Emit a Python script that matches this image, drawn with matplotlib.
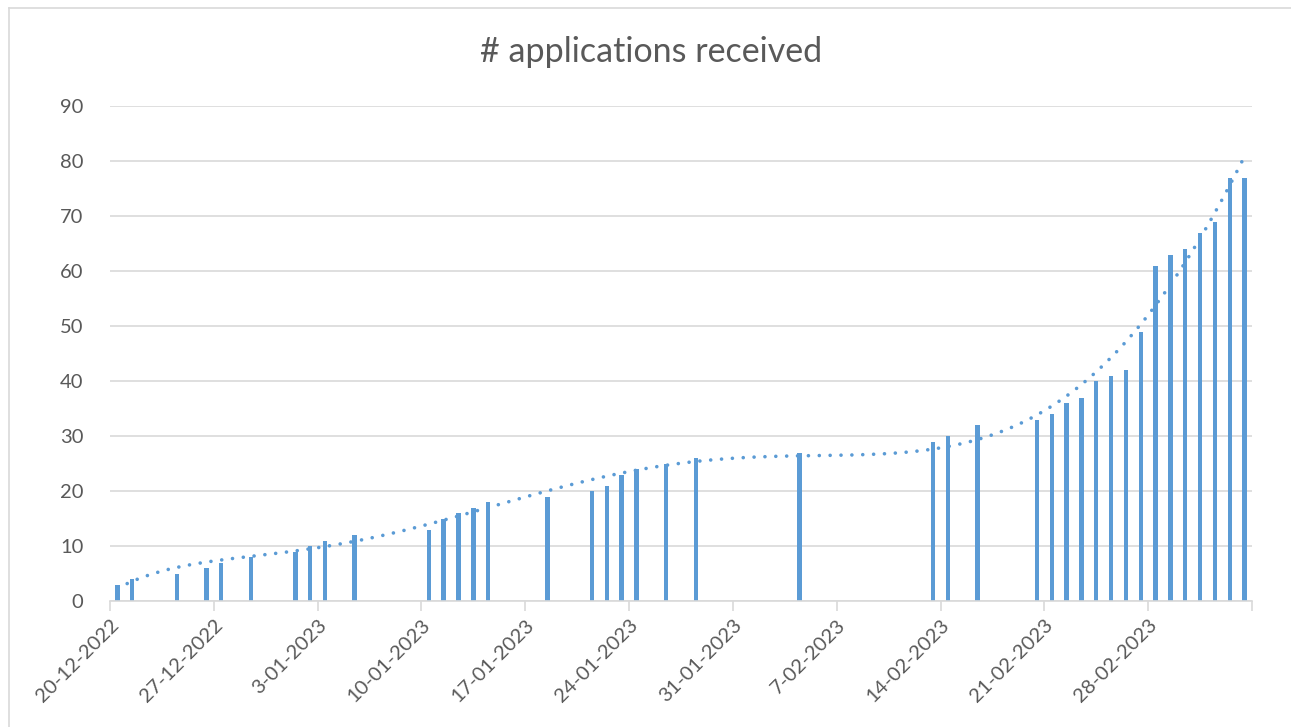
import datetime as dt

import numpy as np
import matplotlib.pyplot as plt
import matplotlib.dates as mdates
from matplotlib.lines import Line2D
from matplotlib.ticker import FuncFormatter

# dates with applications (day offset from 20-12-2022) and running total
START = dt.date(2022, 12, 20)
day_offsets = [0, 1, 4, 6, 7, 9, 12, 13, 14, 16,
               21, 22, 23, 24, 25, 29, 32, 33, 34, 35, 37, 39,
               46, 55, 56, 58,
               62, 63, 64, 65, 66, 67, 68, 69, 70, 71, 72, 73, 74, 75, 76]
received = [3, 4, 5, 6, 7, 8, 9, 10, 11, 12,
            13, 15, 16, 17, 18, 19, 20, 21, 23, 24, 25, 26,
            27, 29, 30, 32,
            33, 34, 36, 37, 40, 41, 42, 49, 61, 63, 64, 67, 69, 77, 77]
y_ticks = list(range(0, 100, 10))

BLUE = "#5B9BD5"
GREY = "#595959"
GRID = "#D9D9D9"
FONT = "Lato"

base = mdates.date2num(START)
x = base + np.array(day_offsets) + 0.5
y = np.array(received)

fig = plt.figure(figsize=(12.91, 7.27), dpi=100)
ax = fig.add_axes([110 / 1291, 1 - 601 / 727, 1142 / 1291, 495 / 727])

ax.bar(x, y, width=0.3, color=BLUE, zorder=2)

# polynomial trendline like the spreadsheet one
d = np.array(day_offsets, dtype=float) + 0.5
coef = np.polyfit(d, y, 6)
dd = np.linspace(d.min(), d.max(), 400)
ax.plot(base + dd, np.polyval(coef, dd), color=BLUE, lw=2.6,
        linestyle=(0, (0.01, 3.0)), dash_capstyle="round", zorder=3)

ax.set_xlim(base, base + 77)
ax.set_ylim(0, 90)
ax.set_yticks(y_ticks)
ax.yaxis.grid(True, color=GRID, lw=1.2, zorder=0)
ax.set_axisbelow(True)


def date_label(v, pos):
    if v > base + 76:
        return ""
    t = mdates.num2date(v)
    return f"{t.day}-{t.month:02d}-{t.year}"


ax.set_xticks(base + np.arange(0, 78, 7))
ax.xaxis.set_major_formatter(FuncFormatter(date_label))

for s in ["left", "right", "top"]:
    ax.spines[s].set_visible(False)
ax.spines["bottom"].set_color(GRID)
ax.spines["bottom"].set_linewidth(1.2)
ax.tick_params(axis="x", colors=GRID, length=7, width=1.2, labelcolor=GREY,
               labelsize=14.5, pad=4)
ax.tick_params(axis="y", length=0, labelcolor=GREY, labelsize=14.5, pad=19)
for lab in ax.get_xticklabels():
    lab.set_rotation(45)
    lab.set_ha("right")
    lab.set_rotation_mode("anchor")
    lab.set_family(FONT)
for lab in ax.get_yticklabels():
    lab.set_family(FONT)

fig.text(651 / 1291, 1 - 52 / 727, "# applications received", ha="center",
         va="center", fontsize=24.5, color=GREY, family=FONT)

# chart area border (left and top edges)
fig.add_artist(Line2D([9 / 1291, 9 / 1291], [0, 1 - 8 / 727],
                      transform=fig.transFigure, color=GRID, lw=1.2))
fig.add_artist(Line2D([9 / 1291, 1], [1 - 8 / 727, 1 - 8 / 727],
                      transform=fig.transFigure, color=GRID, lw=1.2))

fig.savefig("out.png", dpi=100, facecolor="white")
